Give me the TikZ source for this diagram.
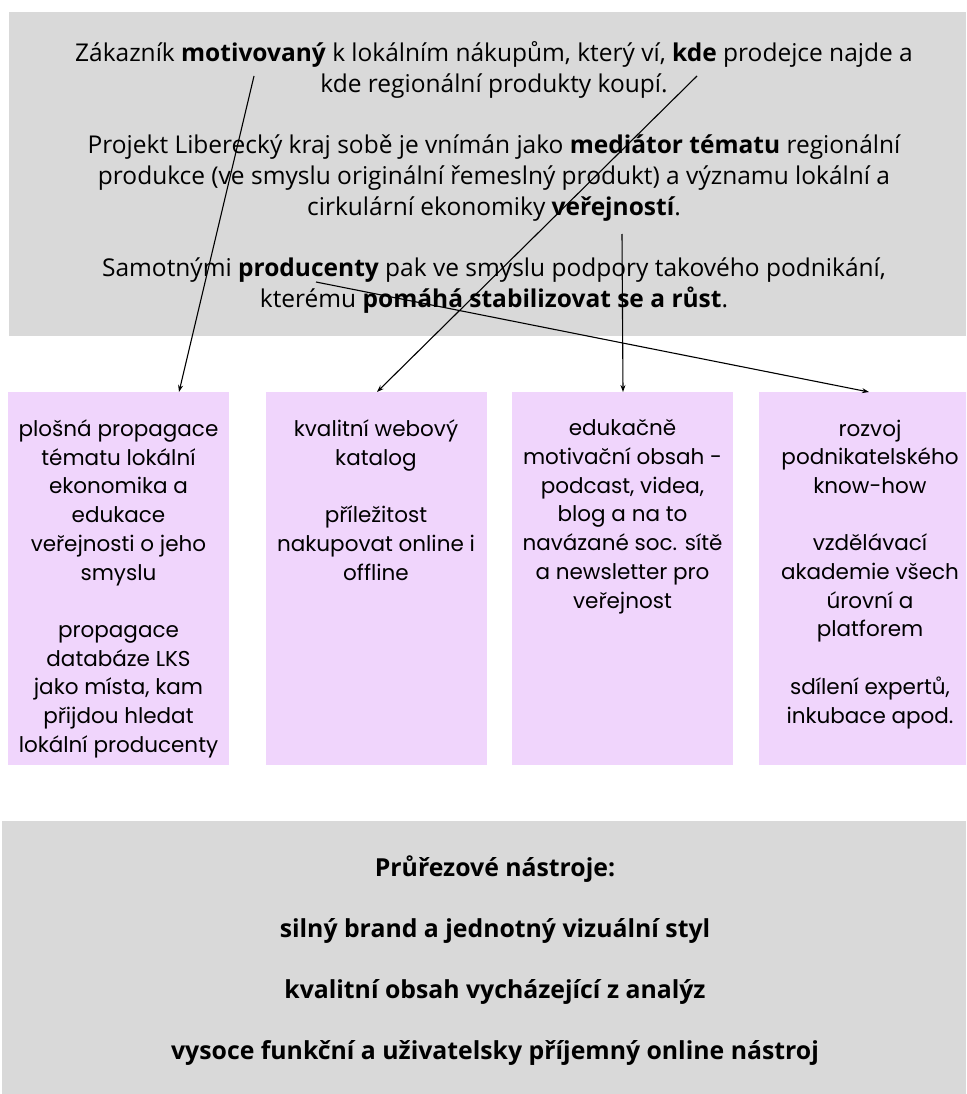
\documentclass[tikz,border=0pt]{standalone}
\usepackage{fontspec}
\setmainfont{Open Sans}
\newfontfamily\popfont{Poppins}
\usetikzlibrary{arrows.meta,calc}
\definecolor{panelgray}{RGB}{217,217,217}
\definecolor{lilac}{RGB}{240,213,252}
\tikzset{
  panel/.style={fill=panelgray,draw=none,inner sep=0pt,anchor=north west},
  pbox/.style={fill=lilac,draw=none,inner sep=0pt,anchor=north west,minimum width=221pt,minimum height=373pt},
  toptext/.style={inner sep=0pt,align=center,anchor=north,font=\fontsize{24.5}{30.7}\selectfont},
  boxtext/.style={inner sep=0pt,align=center,anchor=north,font=\popfont\fontsize{21.5}{28.7}\selectfont},
  bottext/.style={inner sep=0pt,align=center,anchor=north,font=\bfseries\fontsize{24.8}{61}\selectfont},
  arr/.style={line width=1.1pt,-{Stealth[length=7pt,width=5pt]}}
}
\begin{document}
\begin{tikzpicture}[x=1pt,y=-1pt]
\useasboundingbox (0,0) rectangle (966,1094);
\fill[white] (0,0) rectangle (966,1094);
\begin{scope}
\clip (0,0) rectangle (966,1094);
% panels
\node[panel,minimum width=957pt,minimum height=324pt] (top) at (9,12) {};
\node[panel,minimum width=964pt,minimum height=273pt] (bottom) at (2,821) {};
\node[pbox] (b1) at (8,392) {};
\node[pbox] (b2) at (266,392) {};
\node[pbox] (b3) at (512,392) {};
\node[pbox] (b4) at (759,392) {};
\end{scope}
% top text
\node[toptext] (p1) at (494,41.5) {Zákazník \textbf{motivovaný} k lokálním nákupům, který ví, \textbf{kde} prodejce najde a\\
kde regionální produkty koupí.\\[30.7pt]
Projekt Liberecký kraj sobě je vnímán jako \textbf{mediátor tématu} regionální\\
produkce (ve smyslu originální řemeslný produkt) a významu lokální a\\
cirkulární ekonomiky \textbf{veřejností}.\\[30.7pt]
Samotnými \textbf{producenty} pak  ve smyslu podpory takového podnikání,\\
kterému \textbf{pomáhá stabilizovat se a růst}.};
% box texts
\node[boxtext] (t1) at (118.5,419.5) {plošná propagace\\ tématu lokální\\ ekonomika a\\ edukace\\ veřejnosti o jeho\\ smyslu\\[28.7pt] propagace\\ databáze LKS\\ jako místa, kam\\ přijdou hledat\\ lokální producenty};
\node[boxtext] (t2) at (376,419.5) {kvalitní webový\\ katalog\\[28.7pt] příležitost\\ nakupovat online i\\ offline};
\node[boxtext] (t3) at (622.5,419.5) {edukačně\\ motivační obsah -\\ podcast, videa,\\ blog a na to\\ navázané soc. sítě\\ a newsletter pro\\ veřejnost};
\node[boxtext] (t4) at (870,419.5) {rozvoj\\ podnikatelského\\ know-how\\[28.7pt] vzdělávací\\ akademie všech\\ úrovní a\\ platforem\\[28.7pt] sdílení expertů,\\ inkubace apod.};
% bottom text
\node[bottext] (tools) at (495,856) {Průřezové nástroje:\\ silný brand a jednotný vizuální styl\\ kvalitní obsah vycházející z analýz\\ vysoce funkční a uživatelsky příjemný online nástroj};
% arrows
\coordinate (s1) at (254,76);
\coordinate (s2) at (697,76);
\coordinate (s3) at (622,234);
\coordinate (s4) at (316,282);
\draw[arr] (s1) -- ($(b1.north west)+(171,0)$);
\draw[arr] (s2) -- ($(b2.north west)+(111,0)$);
\draw[arr] (s3) -- ($(b3.north west)+(111,0)$);
\draw[arr] (s4) -- ($(b4.north west)+(110,0)$);
\end{tikzpicture}
\end{document}
